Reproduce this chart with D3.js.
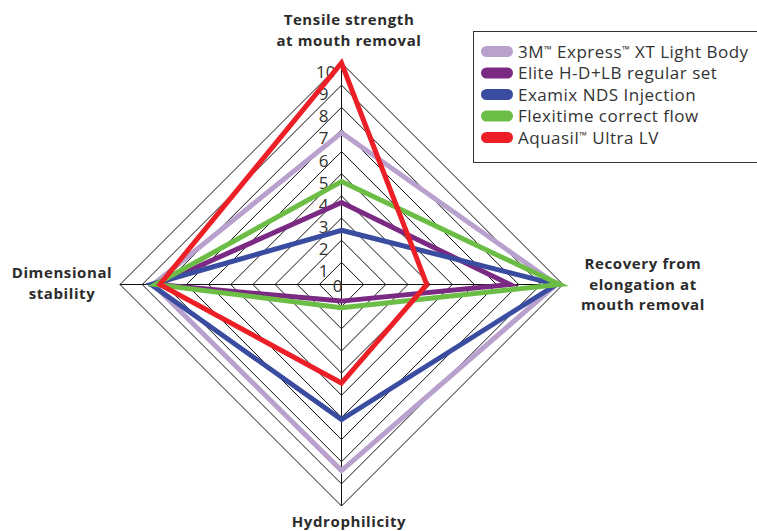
<!DOCTYPE html>
<html>
<head>
<meta charset="utf-8">
<script src="https://cdn.jsdelivr.net/npm/d3@7"></script>
<style>
  body { margin: 0; background: #fff; }
  svg { display: block; font-family: "Open Sans", sans-serif; }
</style>
</head>
<body>
<div id="chart"></div>
<script>
(() => {
  // Radar chart - impression material properties
  const axisNames = ["Tensile strength", "Recovery", "Hydrophilicity", "Dimensional stability"];
  const axisLabels = [
    ["Tensile strength", "at mouth removal"],
    ["Recovery from", "elongation at", "mouth removal"],
    ["Hydrophilicity"],
    ["Dimensional", "stability"]
  ];
  const tickValues = [0, 1, 2, 3, 4, 5, 6, 7, 8, 9, 10];

  const seriesNames = [
    "3M\u2122 Express\u2122 XT Light Body",
    "Elite H-D+LB regular set",
    "Examix NDS Injection",
    "Flexitime correct flow",
    "Aquasil\u2122 Ultra LV"
  ];
  const express = [6.85, 9.7, 8.4, 8.5];
  const elite = [3.7, 7.6, 0.75, 8.3];
  const examix = [2.45, 9.7, 6.1, 8.6];
  const flexitime = [4.65, 9.85, 1.05, 8.4];
  const aquasil = [10, 3.85, 4.45, 8.2];
  const seriesColors = ["#b9a1cd", "#7b2a83", "#3a4c9f", "#6cbd45", "#ec1f27"];

  const series = seriesNames.map((name, i) => ({
    name,
    values: [express, elite, examix, flexitime, aquasil][i],
    color: seriesColors[i]
  }));

  const W = 757, H = 531;
  const cx = 341.5, cy = 284.5, R = 221.5;

  const svg = d3.select("#chart")
    .append("svg")
    .attr("width", W)
    .attr("height", H);

  const r = d3.scaleLinear().domain([0, 10]).range([0, R]);
  // top, right, bottom, left
  const angle = d3.scalePoint().domain(d3.range(axisNames.length)).range([-Math.PI / 2, Math.PI]);
  const pt = (i, v) => [cx + r(v) * Math.cos(angle(i)), cy + r(v) * Math.sin(angle(i))];

  const g = svg.append("g");

  // Grid diamonds
  g.selectAll("path.ring")
    .data(tickValues.filter(d => d > 0))
    .join("path")
    .attr("class", "ring")
    .attr("d", t => d3.line()(axisNames.map((_, i) => pt(i, t))) + "Z")
    .attr("fill", "none")
    .attr("stroke", "#111")
    .attr("stroke-width", 1);

  // Spokes
  g.selectAll("line.spoke")
    .data(axisNames)
    .join("line")
    .attr("class", "spoke")
    .attr("x1", cx).attr("y1", cy)
    .attr("x2", (d, i) => pt(i, 10)[0])
    .attr("y2", (d, i) => pt(i, 10)[1])
    .attr("stroke", "#111")
    .attr("stroke-width", 1);

  // Tick labels along top axis
  g.selectAll("text.tick")
    .data(tickValues)
    .join("text")
    .attr("class", "tick")
    .attr("x", d => d === 0 ? cx - 4 : (d === 10 ? cx - 6 : cx - 13))
    .attr("y", d => d === 0 ? cy + 7 : cy - r(d) + 15)
    .attr("text-anchor", d => d === 0 ? "middle" : "end")
    .attr("font-size", 17)
    .attr("fill", "#333")
    .text(d => d);

  // Series lines
  const line = d3.line().curve(d3.curveLinearClosed);
  g.selectAll("path.series")
    .data(series)
    .join("path")
    .attr("class", "series")
    .attr("d", s => line(s.values.map((v, i) => pt(i, v))))
    .attr("fill", "none")
    .attr("stroke", s => s.color)
    .attr("stroke-width", 5)
    .attr("stroke-linejoin", "miter");

  // Axis titles, one text per line
  const labelPos = [
    { x: 349, y: 25 },
    { x: 643, y: 269 },
    { x: 349, y: 527 },
    { x: 62, y: 278 }
  ];
  axisLabels.forEach((lines, i) => {
    svg.append("g").selectAll("text")
      .data(lines)
      .join("text")
      .attr("x", labelPos[i].x)
      .attr("y", (l, j) => labelPos[i].y + j * 20.5)
      .attr("text-anchor", "middle")
      .attr("font-size", 15)
      .attr("letter-spacing", 0.6)
      .attr("font-weight", "bold")
      .attr("fill", "#2b2b2b")
      .text(l => l);
  });

  // Legend
  const legend = svg.append("g");
  legend.append("rect")
    .attr("x", 473.5).attr("y", 31.5)
    .attr("width", 300).attr("height", 131)
    .attr("fill", "#fff")
    .attr("stroke", "#333")
    .attr("stroke-width", 1);

  const item = legend.selectAll("g.item")
    .data(series)
    .join("g")
    .attr("class", "item")
    .attr("transform", (d, i) => `translate(481,${51.5 + i * 21.5})`);

  item.append("rect")
    .attr("x", 0).attr("y", -5.5)
    .attr("width", 32).attr("height", 11)
    .attr("rx", 5.5)
    .attr("fill", d => d.color);

  // small superscript trademark signs
  item.append("text")
    .attr("x", 37).attr("y", 6)
    .attr("font-size", 17)
    .attr("letter-spacing", 0.5)
    .attr("fill", "#333")
    .each(function (d) {
      const t = d3.select(this);
      d.name.split(/(\u2122)/).filter(s => s).forEach(s => {
        const sp = t.append("tspan").text(s);
        if (s === "\u2122") sp.attr("font-size", 10).attr("baseline-shift", "55%");
      });
    });
})();
</script>
</body>
</html>
